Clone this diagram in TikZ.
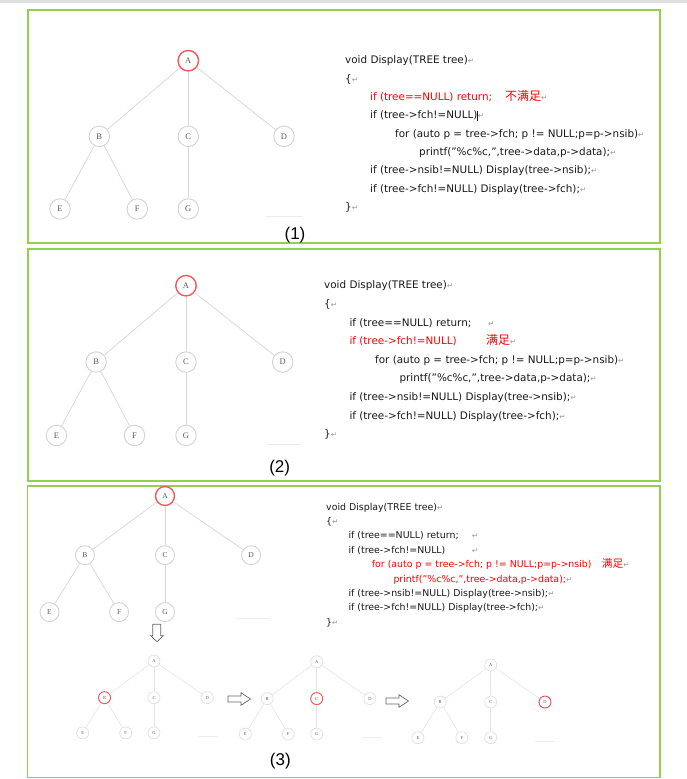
\documentclass[tikz,border=0pt]{standalone}
\usepackage{fontspec}
\setmainfont{DejaVu Sans}
\newfontfamily\treefont{Liberation Serif}
\newfontfamily\cjk{Noto Sans CJK SC}
\newfontfamily\capfont{Liberation Sans}
\newfontfamily\symfont{DejaVu Sans}
\definecolor{frame}{HTML}{92D050}
\definecolor{ring}{HTML}{D2D2D2}
\definecolor{twig}{HTML}{D9D9D9}
\definecolor{hotring}{HTML}{F05A5A}
\newcommand{\ret}{{\symfont\color{black!40}\fontsize{7.5}{7.5}\selectfont ↵}}
% one tree: name prefix, scope options, highlighted letter
\newcommand{\drawtree}[3]{%
	\begin{scope}[#2, hl#3/.style={hot}]
		\foreach \n/\x/\y in {A/0/0, B/-89/75.6, C/0/75.6, D/95.7/75.6, E/-128.3/148.3, F/-51/148.3, G/0/148.3}
			\node[tnode, hl\n/.try] (#1\n) at (\x,\y) {\n};
		\foreach \a/\b in {A/B, A/C, A/D, B/E, B/F, C/G}
			\draw[tedge] (#1\a) -- (#1\b);
	\end{scope}}
\tikzset{
	tnode/.style={circle, draw=ring, line width=0.9pt, inner sep=0pt, minimum size=20.5pt, text=black!65, font=\treefont\fontsize{8.5}{8.5}\selectfont},
	hot/.style={draw=hotring, line width=1.4pt},
	tedge/.style={draw=twig, line width=0.8pt},
	midtree/.style={tnode/.append style={minimum size=19pt, font=\treefont\fontsize{7.5}{7.5}\selectfont}},
	tinytree/.style={tnode/.append style={minimum size=12pt, line width=0.7pt, draw=ring!70, font=\treefont\fontsize{4.5}{4.5}\selectfont},
		hot/.append style={line width=1pt}, tedge/.append style={draw=twig!70, line width=0.6pt}},
	code/.style={anchor=base west, inner sep=0pt, text=black!90, font=\fontsize{10.4}{12}\selectfont},
	smallcode/.style={code, font=\fontsize{9.4}{11}\selectfont},
	note/.style={code, text=red, font=\cjk\fontsize{12}{12}\selectfont},
	smallnote/.style={note, font=\cjk\fontsize{10.7}{11}\selectfont},
	panel/.style={draw=frame, line width=1.3pt},
	caption/.style={inner sep=0pt, font=\capfont\fontsize{17}{17}\selectfont},
	blank/.style={draw=black!7, line width=0.8pt},
	fatarrow/.pic={\draw[black!60, line width=0.7pt, fill=white] (0,-3) -- (13,-3) -- (13,-6.3) -- (22.5,0) -- (13,6.3) -- (13,3) -- (0,3) -- cycle;}
}
\begin{document}
\begin{tikzpicture}[x=1pt, y=-1pt]
	\useasboundingbox (0,0) rectangle (687,779);
	\fill[black!12] (0,0) rectangle (687,3);
	\draw[panel] (28,10) rectangle (660,243);
	\draw[panel] (28,249) rectangle (660,481);
	\draw[panel] (27.5,486) rectangle (660,777.5);

	% (1)
	\drawtree{s}{shift={(188.3,60.7)}}{A}
	\draw[blank] (266,216.7) -- (303,216.7);
	\node[code] (c1l1) at (345,63.9) {void Display(TREE tree)\ret};
	\node[code] (c1l2) at (345,82.2) {\{\ret};
	\node[code, text=red] (c1l3) at (370,100.5) {if (tree==NULL) return;};
	\node[note] (c1n3) at (505,100.5) {不满足\ret};
	\node[code] (c1l4) at (370,118.8) {if (tree->fch!=NULL)\rule[-2.2pt]{0.6pt}{10pt}\ret};
	\node[code] (c1l5) at (395,137.1) {for (auto p = tree->fch; p != NULL;p=p->nsib)\ret};
	\node[code] (c1l6) at (419,155.4) {printf("\%c\%c,",tree->data,p->data);\ret};
	\node[code] (c1l7) at (370,173.7) {if (tree->nsib!=NULL) Display(tree->nsib);\ret};
	\node[code] (c1l8) at (370,192) {if (tree->fch!=NULL) Display(tree->fch);\ret};
	\node[code] (c1l9) at (345,210.3) {\}\ret};
	\node[caption] (cap1) at (295,235) {(1)};

	% (2)
	\drawtree{t}{shift={(186,285.7)}, xscale=1.01, yscale=1.01}{A}
	\draw[blank] (266,444) -- (301,444);
	\node[code] (c2l1) at (324,288.9) {void Display(TREE tree)\ret};
	\node[code] (c2l2) at (324,307.5) {\{\ret};
	\node[code] (c2l3) at (349.3,326.1) {if (tree==NULL) return;};
	\node[code] (c2r3) at (488,326.1) {\ret};
	\node[code, text=red] (c2l4) at (349.3,344.7) {if (tree->fch!=NULL)};
	\node[note] (c2n4) at (486,344.7) {满足\ret};
	\node[code] (c2l5) at (375,363.3) {for (auto p = tree->fch; p != NULL;p=p->nsib)\ret};
	\node[code] (c2l6) at (399.3,381.9) {printf("\%c\%c,",tree->data,p->data);\ret};
	\node[code] (c2l7) at (349.3,400.5) {if (tree->nsib!=NULL) Display(tree->nsib);\ret};
	\node[code] (c2l8) at (349.3,419.1) {if (tree->fch!=NULL) Display(tree->fch);\ret};
	\node[code] (c2l9) at (324,437.7) {\}\ret};
	\node[caption] (cap2) at (279.7,468.3) {(2)};

	% (3)
	\drawtree{u}{shift={(165,496)}, xscale=0.9, yscale=0.783, midtree}{A}
	\draw[blank] (236,618) -- (269,618);
	\draw[black!60, line width=0.7pt] (152.7,624.3) -- (160.7,624.3) -- (160.7,635.7) -- (163.3,635.7) -- (157,641.7) -- (150.7,635.7) -- (152.7,635.7) -- cycle;
	\node[smallcode] (c3l1) at (326,510.1) {void Display(TREE tree)\ret};
	\node[smallcode] (c3l2) at (326,524.5) {\{\ret};
	\node[smallcode] (c3l3) at (348.3,538.9) {if (tree==NULL) return;};
	\node[smallcode] (c3r3) at (471.7,538.9) {\ret};
	\node[smallcode] (c3l4) at (348.3,553.3) {if (tree->fch!=NULL)};
	\node[smallcode] (c3r4) at (471.7,553.3) {\ret};
	\node[smallcode, text=red] (c3l5) at (371.7,567.7) {for (auto p = tree->fch; p != NULL;p=p->nsib)};
	\node[smallnote] (c3n5) at (601.7,567.7) {满足\ret};
	\node[smallcode, text=red] (c3l6) at (393.3,582.1) {printf("\%c\%c,",tree->data,p->data);\ret};
	\node[smallcode] (c3l7) at (348.3,596.5) {if (tree->nsib!=NULL) Display(tree->nsib);\ret};
	\node[smallcode] (c3l8) at (348.3,610.9) {if (tree->fch!=NULL) Display(tree->fch);\ret};
	\node[smallcode] (c3l9) at (326,625.3) {\}\ret};

	\drawtree{v}{shift={(154,661)}, xscale=0.556, yscale=0.485, tinytree}{B}
	\draw[blank] (198,736.7) -- (218,736.7);
	\pic at (228,699) {fatarrow};
	\drawtree{w}{shift={(316.7,661.7)}, xscale=0.556, yscale=0.488, tinytree}{C}
	\draw[blank] (361.7,737.3) -- (381.7,737.3);
	\pic at (386,701) {fatarrow};
	\drawtree{x}{shift={(490.7,665)}, xscale=0.567, yscale=0.49, tinytree}{D}
	\draw[blank] (535,741) -- (555,741);
	\node[caption] (cap3) at (280.3,760.7) {(3)};
\end{tikzpicture}
\end{document}
